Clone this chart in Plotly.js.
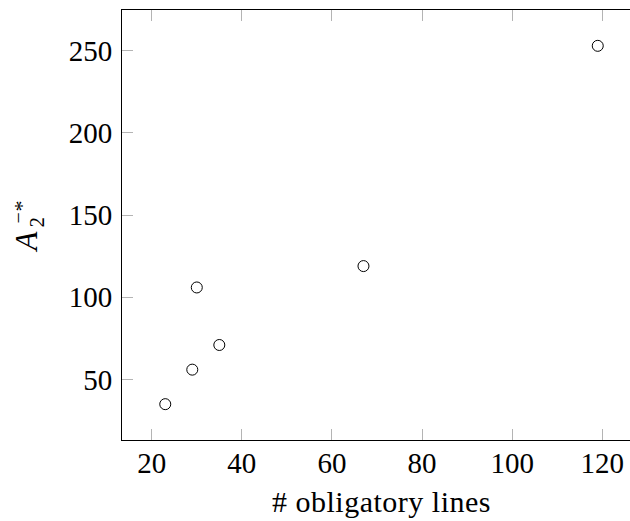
<!DOCTYPE html>
<html>
<head>
<meta charset="utf-8">
<script src="https://cdn.plot.ly/plotly-3.0.1.min.js"></script>
<style>
html, body { margin: 0; padding: 0; overflow: hidden; background: #fff; }
#chart { width: 660px; height: 521px; }
.g-xtitle text { letter-spacing: 0.5px; }
</style>
</head>
<body>
<div id="chart"></div>
<script>
// Data
const obligatoryLines = [23, 29, 30, 35, 67, 119];
const a2Values = [35, 56, 106, 71, 119, 253];
const xTicks = [20, 40, 60, 80, 100, 120];
const yTicks = [50, 100, 150, 200, 250];

const FONT = "Liberation Serif, Times New Roman, serif";
const L = 122, R = 19, T = 10, B = 81, W = 660, H = 521;
const pw = W - L - R, ph = H - T - B;
function px(x) { return (x - L) / pw; }
function py(y) { return (H - B - y) / ph; }

const trace = {
  x: obligatoryLines,
  y: a2Values,
  type: 'scatter',
  mode: 'markers',
  marker: { symbol: 'circle', size: 11, color: 'rgba(255,255,255,0)', line: { color: '#000', width: 1 } },
  hoverinfo: 'x+y'
};

const axisCommon = {
  ticks: 'inside', ticklen: 11, tickwidth: 1, tickcolor: '#b4b4b4',
  showline: true, linecolor: '#000', linewidth: 1, mirror: 'ticks',
  showgrid: false, zeroline: false,
  tickfont: { family: FONT, size: 29, color: '#000' }
};

const layout = {
  width: W, height: H,
  margin: { l: L, r: R, t: T, b: B, pad: 0 },
  paper_bgcolor: '#fff', plot_bgcolor: '#fff',
  showlegend: false,
  xaxis: Object.assign({}, axisCommon, {
    range: [13.4, 128.6], tickvals: xTicks, ticktext: xTicks.map(String),
    ticklabelstandoff: -3,
    title: { text: '# obligatory lines', font: { family: FONT, size: 30, color: '#000' }, standoff: 13 }
  }),
  yaxis: Object.assign({}, axisCommon, {
    range: [13.2, 274.8], tickvals: yTicks, ticktext: yTicks.map(String),
    ticklabelstandoff: 3
  }),
  annotations: [
    { text: '<i>A</i>', xref: 'paper', yref: 'paper', x: px(26.5), y: py(242), xanchor: 'center', yanchor: 'middle',
      textangle: -90, showarrow: false, font: { family: FONT, size: 31, color: '#000' } },
    { text: '2', xref: 'paper', yref: 'paper', x: px(36), y: py(222.5), xanchor: 'center', yanchor: 'middle',
      textangle: -90, showarrow: false, font: { family: FONT, size: 21, color: '#000' } },
    { text: '−', xref: 'paper', yref: 'paper', x: px(17), y: py(218.5), xanchor: 'center', yanchor: 'middle',
      textangle: -90, showarrow: false, font: { family: FONT, size: 20, color: '#000' } },
    { text: '*', xref: 'paper', yref: 'paper', x: px(21.5), y: py(206), xanchor: 'center', yanchor: 'middle',
      textangle: -90, showarrow: false, font: { family: FONT, size: 22, color: '#000' } }
  ]
};

Plotly.newPlot('chart', [trace], layout, { displayModeBar: false, staticPlot: true });
</script>
</body>
</html>
